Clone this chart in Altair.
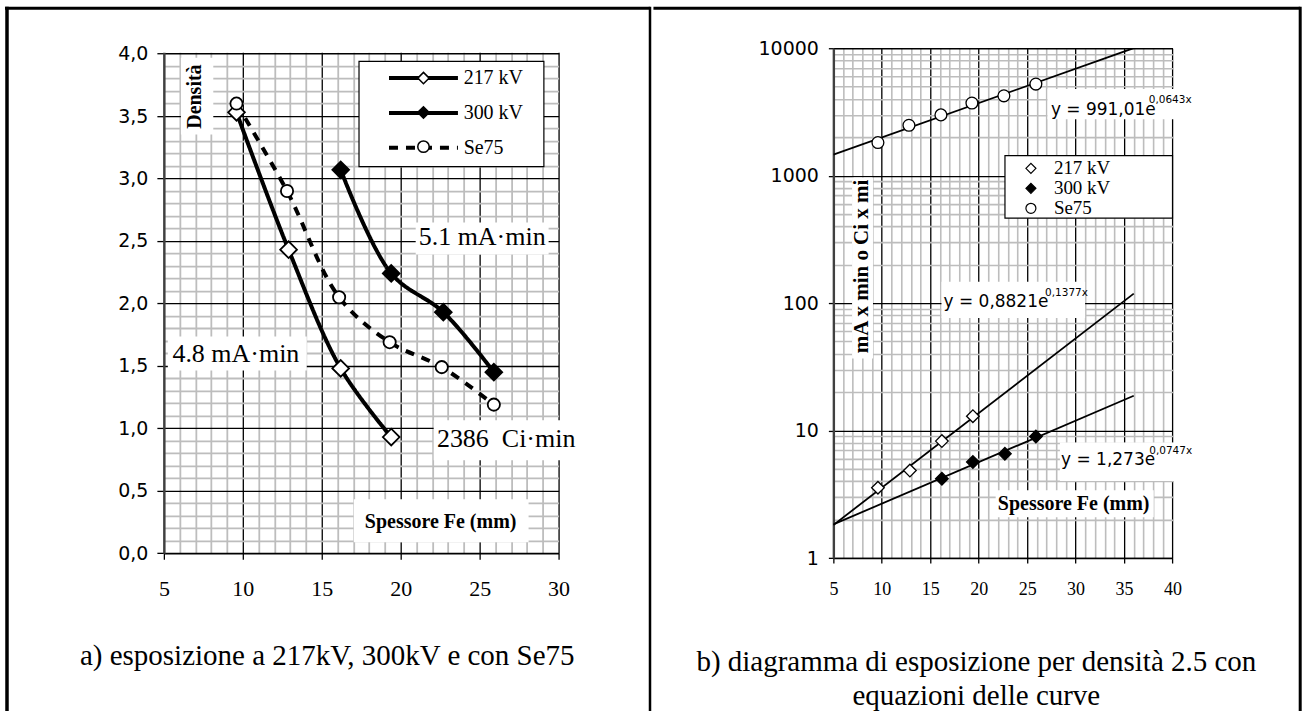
import altair as alt
import pandas as pd

SERIES = ["217 kV", "300 kV", "Se75"]

# Spessore Fe (mm) of every measured point
fe_217 = [9.6, 12.9, 16.2, 19.4]
fe_300 = [16.2, 19.4, 22.7, 25.9]
fe_se75 = [9.6, 12.8, 16.1, 19.3, 22.6, 25.9]

# panel a) densita'
dens_217 = [3.53, 2.43, 1.48, 0.93]
dens_300 = [3.07, 2.24, 1.93, 1.45]
dens_se75 = [3.60, 2.90, 2.05, 1.69, 1.49, 1.19]

# panel b) mA x min o Ci x min for density 2.5
expo_217 = [3.56, 4.86, 8.27, 12.97]
expo_300 = [4.19, 5.67, 6.57, 8.97]
expo_se75 = [1820, 2486, 3000, 3715, 4233, 5234]

SERIF = "Liberation Serif"
SANS = "DejaVu Sans"


def table(xs_list, ys_list, yname):
    rows = []
    for s, xs, ys in zip(SERIES, xs_list, ys_list):
        for x, y in zip(xs, ys):
            rows.append({"s": s, "s2": s, "x": x, yname: y})
    return pd.DataFrame(rows)


df_l = table([fe_217, fe_300, fe_se75], [dens_217, dens_300, dens_se75], "d")
df_r = table([fe_217, fe_300, fe_se75], [expo_217, expo_300, expo_se75], "e")
one = pd.DataFrame({"k": [0]})


def cond(test, a, b):
    return {"condition": {"test": test, "value": a}, "value": b}


MAJ5 = "datum.value % 5 === 0"
MAJ_YL = "abs(datum.value * 2 - round(datum.value * 2)) < 0.001"
MAJ_YR = "abs(log(datum.value) / LN10 - round(log(datum.value) / LN10)) < 0.001"
GRID_MINOR = "#bdbdbd"

# ---------------- axes / scales, panel a ----------------
SXL = alt.Scale(domain=[5, 30], nice=False, zero=False)
SYL = alt.Scale(domain=[0, 4.0432], nice=False, zero=False)
AXL = alt.Axis(
    values=list(range(5, 31)), title=None, grid=True,
    gridColor=cond(MAJ5, "black", GRID_MINOR), gridWidth=cond(MAJ5, 1.3, 1.8),
    tickOpacity=cond(MAJ5, 1, 0), tickColor="black", tickSize=6, tickWidth=1.3,
    domainColor="black", domainWidth=1.6,
    labelExpr=f"{MAJ5} ? datum.label : ''", labelFont=SERIF, labelFontSize=22,
    labelColor="black", labelBaseline="middle", labelPadding=29,
    labelOverlap=False, labelFlush=False)
AYL = alt.Axis(
    values=[round(i * 0.1, 1) for i in range(41)], title=None, grid=True,
    gridColor=cond(MAJ_YL, "black", GRID_MINOR), gridWidth=cond(MAJ_YL, 1.3, 1.8),
    tickOpacity=cond(MAJ_YL, 1, 0), tickColor="black", tickSize=7, tickWidth=1.3,
    domainColor="#404040", domainWidth=2.4,
    labelExpr=f"{MAJ_YL} ? replace(format(datum.value, '.1f'), '.', ',') : ''",
    labelFont=SANS, labelFontSize=19, labelColor="black", labelPadding=9,
    labelOverlap=False, labelFlush=False)

# ---------------- axes / scales, panel b ----------------
SXR = alt.Scale(domain=[5, 40], nice=False, zero=False)
SYR = alt.Scale(type="log", domain=[1, 10000], nice=False)
AXR = alt.Axis(
    values=list(range(5, 41)), title=None, grid=True,
    gridColor=cond(MAJ5, "black", GRID_MINOR), gridWidth=cond(MAJ5, 1.3, 1.6),
    tickOpacity=cond(MAJ5, 1, 0), tickColor="black", tickSize=5, tickWidth=1.3,
    domainColor="black", domainWidth=1.6,
    labelExpr=f"{MAJ5} ? datum.label : ''", labelFont=SERIF, labelFontSize=18,
    labelColor="black", labelBaseline="middle", labelPadding=26,
    labelOverlap=False, labelFlush=False)
AYR = alt.Axis(
    values=[m * 10 ** k for k in range(4) for m in range(1, 10)] + [10000],
    title=None, grid=True,
    gridColor=cond(MAJ_YR, "black", GRID_MINOR), gridWidth=cond(MAJ_YR, 1.3, 1.6),
    tickOpacity=cond(MAJ_YR, 1, 0), tickColor="black", tickSize=5, tickWidth=1.3,
    domainColor="#404040", domainWidth=2.4,
    labelExpr=f"{MAJ_YR} ? format(datum.value, 'd') : ''",
    labelFont=SANS, labelFontSize=19, labelColor="black", labelPadding=10,
    labelOverlap=False, labelFlush=False)


def X(field, sx, ax):
    return alt.X(field, type="quantitative", scale=sx, axis=ax)


def Y(field, sy, ay):
    return alt.Y(field, type="quantitative", scale=sy, axis=ay)


def note(x, y, text, sx, sy, ax, ay, **kw):
    d = pd.DataFrame({"x": [x], "y": [y], "t": [text]})
    base = dict(font=SERIF, color="black", align="center", baseline="middle")
    base.update(kw)
    return alt.Chart(d).mark_text(**base).encode(
        x=X("x", sx, ax), y=Y("y", sy, ay), text="t:N")


def box(x1, x2, y1, y2, sx, sy, ax, ay, **kw):
    d = pd.DataFrame({"x": [x1], "x2": [x2], "y": [y1], "y2": [y2]})
    base = dict(fill="white", strokeWidth=0)
    base.update(kw)
    return alt.Chart(d).mark_rect(**base).encode(
        x=X("x", sx, ax), x2="x2", y=Y("y", sy, ay), y2="y2")


def rule_px(x, y, x2=None, y2=None, **kw):
    enc = dict(x=alt.value(x), y=alt.value(y))
    if x2 is not None:
        enc["x2"] = alt.value(x2)
    if y2 is not None:
        enc["y2"] = alt.value(y2)
    return alt.Chart(one).mark_rule(**kw).encode(**enc)


def text_px(x, y, text, **kw):
    base = dict(font=SERIF, color="black", align="center", baseline="middle")
    base.update(kw)
    return alt.Chart(one).mark_text(text=text, **base).encode(
        x=alt.value(x), y=alt.value(y))


SHAPE_SCALE = alt.Scale(domain=SERIES, range=["diamond", "diamond", "circle"])
FILL_SCALE = alt.Scale(domain=SERIES, range=["white", "black", "white"])
STROKE_SCALE = alt.Scale(domain=SERIES, range=["black", "black", "black"])


def marks(df, ycol, sx, sy, ax, ay, legend, size_d, size_c, sw):
    enc = dict(
        x=X("x", sx, ax), y=Y(ycol, sy, ay),
        shape=alt.Shape("s2:N", scale=SHAPE_SCALE, legend=legend),
        fill=alt.Fill("s2:N", scale=FILL_SCALE, legend=legend),
        stroke=alt.Stroke("s2:N", scale=STROKE_SCALE, legend=legend))
    d = alt.Chart(df).transform_filter("datum.s2 != 'Se75'").mark_point(
        filled=True, size=size_d, strokeWidth=sw, opacity=1).encode(**enc)
    c = alt.Chart(df).transform_filter("datum.s2 == 'Se75'").mark_point(
        filled=True, size=size_c, strokeWidth=sw, opacity=1).encode(**enc)
    return [d, c]


# ================= panel a =================
OXL, OYL = 164.0, 47.6   # plot origin on the page (4,0 gridline sits at y=52.5)
W_L, H_L = 395, 505.4

# line sample of the legend: a path 3x wider than the nominal symbol box
leg_lines = alt.Legend(
    title=None, orient="none", legendX=246.3, legendY=16.4, symbolType="M-3,0H3",
    symbolSize=529, symbolStrokeWidth=4, symbolStrokeColor="black",
    symbolFillColor="transparent",
    labelFont=SERIF, labelFontSize=20, labelColor="black", labelOffset=26.7,
    rowPadding=10.8, padding=0, zindex=1)
# marker overlay of the same legend (its labels are left empty)
leg_marks_l = alt.Legend(
    title=None, orient="none", legendX=249.8, legendY=19.9, symbolSize=130,
    symbolStrokeWidth=1.5, symbolStrokeColor="black", symbolOpacity=1,
    labelExpr="''", labelFontSize=20, rowPadding=14.3, padding=0, zindex=2)

lines_l = alt.Chart(df_l).mark_line(
    interpolate="catmull-rom", strokeWidth=4, color="black").encode(
    x=X("x", SXL, AXL), y=Y("d", SYL, AYL),
    strokeDash=alt.StrokeDash(
        "s:N", scale=alt.Scale(range=[[1, 0], [1, 0], [9, 8]]), legend=leg_lines))

LA = (SXL, SYL, AXL, AYL)
left_layers = [
    box(4.85, 30.15, 4.007, 4.06, *LA),          # strip above the 4,0 line
    box(6.08, 8.13, 3.968, 3.352, *LA),
    box(5.25, 14.05, 1.736, 1.464, *LA),
    box(20.95, 29.37, 2.648, 2.392, *LA),
    box(22.09, 31.2, 1.064, 0.744, *LA),
    box(17.03, 28.1, 0.432, 0.088, *LA),
    box(17.36, 29.07, 3.938, 3.096, *LA, stroke="black", strokeWidth=1.2),
    lines_l,
    *marks(df_l, "d", *LA, leg_marks_l, 280, 150, 1.8),
    note(6.99, 3.656, "Densità", *LA, fontSize=20, fontWeight="bold", angle=270),
    note(9.56, 1.592, "4.8 mA·min", *LA, fontSize=26),
    note(25.16, 2.528, "5.1 mA·min", *LA, fontSize=26),
    note(26.68, 0.912, "2386\u00a0 Ci·min", *LA, fontSize=26),
    note(22.53, 0.252, "Spessore Fe (mm)", *LA, fontSize=20, fontWeight="bold"),
    # page frame
    rule_px(-OXL, -OYL, 651.75 - OXL, 711 - OYL, strokeOpacity=0, strokeWidth=0.01),
    rule_px(5 - OXL, 7.5 - OYL, 650.25 - OXL, color="black", strokeWidth=3),
    rule_px(7 - OXL, 6 - OYL, None, 711 - OYL, color="black", strokeWidth=3.5),
    rule_px(650.5 - OXL, 6 - OYL, None, 711 - OYL, color="black", strokeWidth=2.5),
    text_px(327.5 - OXL, 656 - OYL, "a) esposizione a 217kV, 300kV e con Se75",
            fontSize=29),
]
left = alt.layer(*left_layers).properties(width=W_L, height=H_L)

# ================= panel b =================
OXR, OYR = 833.3, 47.6
W_R, H_R = 339.4, 510.2

leg_marks_r = alt.Legend(
    title=None, orient="none", legendX=188.2, legendY=110.7, symbolSize=100,
    symbolStrokeWidth=1.2, symbolStrokeColor="black", symbolOpacity=1,
    labelFont=SERIF, labelFontSize=19, labelColor="black", labelOffset=13.5,
    rowPadding=0, padding=0)

RA = (SXR, SYR, AXR, AYR)
trend = alt.Chart(df_r).transform_calculate(le="log(datum.e)").transform_regression(
    "x", "le", method="linear", groupby=["s"], extent=[5, 36]).transform_calculate(
    ey="exp(datum.le)").mark_line(color="black", strokeWidth=1.8, clip=True).encode(
    x=X("x", SXR, AXR), y=Y("ey", SYR, AYR), detail="s:N")

right_layers = [
    box(6.93, 9.09, 967, 36.8, *RA),
    box(27.1, 41.9, 4789, 2767, *RA),
    box(16.16, 30.98, 147.4, 76.6, *RA),
    box(28.38, 41.93, 8.06, 4.02, *RA),
    box(21.75, 38.06, 3.41, 2.09, *RA),
    box(22.71, 40.0, 1439, 464, *RA, stroke="black", strokeWidth=1.2),
    trend,
    *marks(df_r, "e", *RA, leg_marks_r, 160, 140, 1.3),
    note(8.0, 194, "mA x min o Ci x mi", *RA, fontSize=21, fontWeight="bold", angle=270),
    note(27.45, 3303, "y = 991,01e", *RA, font=SANS, fontSize=17, align="left"),
    note(37.55, 3900, "0,0643x", *RA, font=SANS, fontSize=10.5, align="left"),
    note(16.37, 102, "y = 0,8821e", *RA, font=SANS, fontSize=17, align="left"),
    note(26.85, 121, "0,1377x", *RA, font=SANS, fontSize=10.5, align="left"),
    note(28.5, 5.91, "y = 1,273e", *RA, font=SANS, fontSize=17, align="left"),
    note(37.6, 6.95, "0,0747x", *RA, font=SANS, fontSize=10.5, align="left"),
    note(29.8, 2.67, "Spessore Fe (mm)", *RA, fontSize=20, fontWeight="bold"),
    # page frame
    rule_px(651.75 - OXR, -OYR, 1303 - OXR, 711 - OYR, strokeOpacity=0, strokeWidth=0.01),
    rule_px(653.25 - OXR, 7.5 - OYR, 1300.5 - OXR, color="black", strokeWidth=3),
    rule_px(1300.5 - OXR, 6 - OYR, None, 711 - OYR, color="black", strokeWidth=3),
    text_px(976.4 - OXR, 662 - OYR, "b) diagramma di esposizione per densità 2.5 con",
            fontSize=29),
    text_px(976.4 - OXR, 696 - OYR, "equazioni delle curve", fontSize=29),
]
right = alt.layer(*right_layers).properties(width=W_R, height=H_R)

chart = alt.hconcat(left, right, spacing=0).resolve_scale(
    shape="independent", fill="independent", stroke="independent",
    strokeDash="independent", x="independent", y="independent").resolve_legend(
    shape="independent", fill="independent", stroke="independent",
    strokeDash="independent").properties(
    padding=0, background="white").configure_view(stroke=None)

chart.save("out.html", embed_options={"renderer": "svg", "actions": False})
